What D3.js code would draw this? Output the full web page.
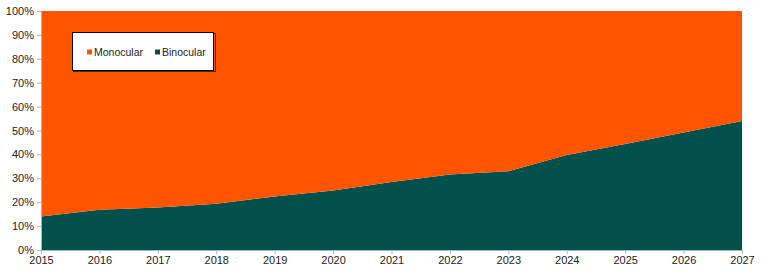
<!DOCTYPE html>
<html>
<head>
<meta charset="utf-8">
<script src="https://cdn.jsdelivr.net/npm/d3@7"></script>
<style>
  body { margin: 0; background: #fff; }
  text { font-family: "Liberation Sans", Arial, sans-serif; }
</style>
</head>
<body>
<div id="chart"></div>
<script>
// Data (share of binocular, in %)
const years = [2015, 2016, 2017, 2018, 2019, 2020, 2021, 2022, 2023, 2024, 2025, 2026, 2027];
const binocular = [14, 16.8, 17.8, 19.3, 22.4, 24.9, 28.4, 31.6, 32.9, 39.7, 44.4, 49.2, 54];
const monocular = binocular.map(v => 100 - v);
const seriesNames = ['Monocular', 'Binocular'];
const yTicks = [0, 10, 20, 30, 40, 50, 60, 70, 80, 90, 100];

const colors = { Monocular: '#FF5500', Binocular: '#02504B' };

// Set up the SVG container
const margin = { top: 11, right: 31, bottom: 25, left: 41 };
const width = 773 - margin.left - margin.right;
const height = 275 - margin.top - margin.bottom;

const svg = d3.select('#chart')
    .append('svg')
    .attr('width', width + margin.left + margin.right)
    .attr('height', height + margin.top + margin.bottom)
    .append('g')
    .attr('transform', `translate(${margin.left},${margin.top})`);

const x = d3.scaleLinear()
    .domain([years[0], years[years.length - 1]])
    .range([0, width]);

const y = d3.scaleLinear()
    .domain([0, 100])
    .range([height, 0]);

// Stack: binocular on the bottom, monocular on top
const table = years.map((yr, i) => ({ year: yr, Binocular: binocular[i], Monocular: monocular[i] }));
const stacked = d3.stack().keys(['Binocular', 'Monocular'])(table);

const area = d3.area()
    .x(d => x(d.data.year))
    .y0(d => y(d[0]))
    .y1(d => y(d[1]));

svg.selectAll('path.layer')
    .data(stacked)
    .enter()
    .append('path')
    .attr('class', 'layer')
    .attr('d', area)
    .attr('fill', d => colors[d.key]);

// Y-axis
const yAxis = svg.append('g')
    .call(d3.axisLeft(y).tickValues(yTicks).tickFormat(d => d + '%').tickSize(4).tickSizeOuter(0));
yAxis.select('.domain').attr('stroke', '#a9b6c4');
yAxis.selectAll('.tick line').attr('stroke', '#a9b6c4');
yAxis.selectAll('text').style('font-size', '11px').attr('fill', '#222').attr('x', -7);

// X-axis
const xAxis = svg.append('g')
    .attr('transform', `translate(0, ${height})`)
    .call(d3.axisBottom(x).tickValues(years).tickFormat(d3.format('d')).tickSize(4).tickSizeOuter(0));
xAxis.select('.domain').attr('stroke', '#a9b6c4');
xAxis.selectAll('.tick line').attr('stroke', '#a9b6c4');
xAxis.selectAll('text').style('font-size', '11px').attr('fill', '#222').attr('y', 6);

// Legend
const legend = svg.append('g')
    .attr('transform', `translate(${72.5 - margin.left}, ${32.5 - margin.top})`);

// soft shadow on the right/bottom edges
legend.append('rect')
    .attr('x', 1)
    .attr('y', 1)
    .attr('width', 142)
    .attr('height', 38)
    .attr('fill', 'none')
    .attr('stroke', '#333')
    .attr('stroke-width', 1);

legend.append('rect')
    .attr('width', 141)
    .attr('height', 38)
    .attr('fill', '#fff')
    .attr('stroke', '#000')
    .attr('stroke-width', 1);

const legendItems = legend.selectAll('.legend-item')
    .data(seriesNames)
    .enter()
    .append('g')
    .attr('class', 'legend-item')
    .attr('transform', (d, i) => `translate(${14.5 + i * 68}, 19.5)`);

legendItems.append('rect')
    .attr('x', 0)
    .attr('y', -2.5)
    .attr('width', 5)
    .attr('height', 5)
    .attr('fill', d => colors[d]);

legendItems.append('text')
    .attr('x', 7)
    .attr('dy', '0.35em')
    .style('font-size', '10.5px')
    .attr('fill', '#222')
    .text(d => d);
</script>
</body>
</html>
